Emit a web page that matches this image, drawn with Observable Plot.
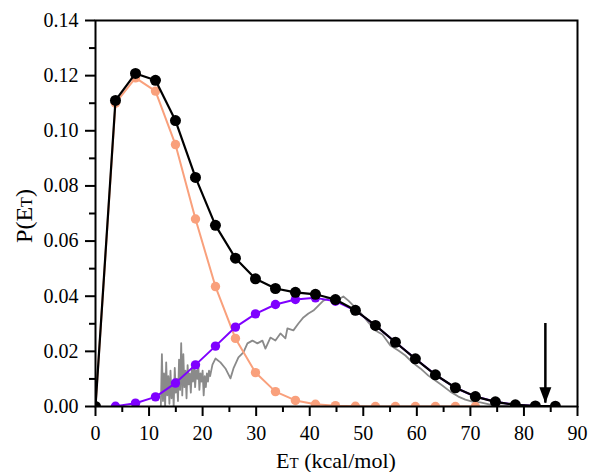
<!DOCTYPE html>
<html><head><meta charset="utf-8">
<script src="https://cdn.jsdelivr.net/npm/d3@7"></script>
<script src="https://cdn.jsdelivr.net/npm/@observablehq/plot@0.6"></script>
<style>
body{margin:0;background:#fff}
</style>
</head><body><div id="chart"></div>
<script>
// Energy grid (kcal/mol) of the computed points
const energy = [0,3.73,7.47,11.2,14.93,18.67,22.4,26.13,29.87,33.6,37.33,41.07,44.8,48.53,52.27,56,59.73,63.47,67.2,70.93,74.67,78.4,82.13,85.87];
// Total P(ET) (black)
const totalP = [0,0.111,0.1208,0.1183,0.1037,0.0831,0.0657,0.0538,0.0463,0.0428,0.0414,0.0407,0.0388,0.0349,0.0294,0.0233,0.0173,0.0115,0.0068,0.0036,0.0017,0.0006,0.0002,0.0001];
// Low-energy component (salmon), indices 0..19
const lowP = [0,0.110,0.1192,0.1144,0.095,0.068,0.0435,0.0247,0.0123,0.0054,0.0022,0.0008,0.0003,0.0001,0,0,0,0,0,0];
// High-energy component (purple), indices 1..23
const highP = [null,0.0001,0.0012,0.0035,0.0085,0.0151,0.0219,0.0288,0.0336,0.037,0.0388,0.0394,0.0382,0.0348,0.0294,0.0233,0.0173,0.0115,0.0068,0.0036,0.0017,0.0006,0.0002,0.0001];
// Experimental distribution (gray)
const expE = [12.2,12.4,12.6,12.8,13.0,13.2,13.4,13.6,13.8,14.0,14.2,14.4,14.6,14.8,15.0,15.2,15.4,15.6,15.8,16.0,16.2,16.4,16.6,16.8,17.0,17.2,17.4,17.6,17.8,18.0,18.2,18.4,18.6,18.8,19.0,19.2,19.4,19.6,19.8,20.0,20.2,20.4,20.6,20.8,21.0,21.2,21.4,
  21.84,22.4,23.33,24.26,25.2,25.76,26.69,27.62,28.37,29.3,30.23,31.17,31.73,32.66,33.59,34.53,35.46,35.83,36.95,37.89,38.82,39.76,40.69,41.62,42.55,43.86,45.35,46.28,47.22,48.15,49.46,50.95,52.26,53.57,55.06,56.55,57.86,59.16,60.66,62.15,63.46,64.76,66.25,67.75,69.06,70.36,71.85,73.72,75.59,77.45];
const expP = [0,0.019,0.002,0.012,0,0.016,0.004,0.011,0.001,0.013,0.003,0.009,0,0.014,0.005,0.010,0.002,0.017,0.006,0.023,0.004,0.019,0.007,0.013,0.003,0.015,0.008,0.012,0.005,0.014,0.009,0.016,0.007,0.013,0.010,0.015,0.006,0.012,0.009,0.013,0.004,0.011,0.007,0.012,0.009,0.013,0.011,
  0.0152,0.0174,0.016,0.0138,0.0102,0.0138,0.0178,0.0196,0.0229,0.0239,0.0229,0.0239,0.021,0.025,0.0239,0.0265,0.0247,0.0283,0.0276,0.0301,0.0323,0.0337,0.0348,0.0366,0.0384,0.0395,0.0388,0.0399,0.0384,0.0366,0.0341,0.0305,0.0276,0.0261,0.0221,0.0203,0.0185,0.016,0.0138,0.0112,0.0094,0.0076,0.0054,0.0036,0.0025,0.0018,0.0015,0.0007,0.0004,0.0001];
// Arrow (available-energy marker)
const arrowE = 84.0, arrowFrom = 0.0301, arrowTo = 0.0012;
// Ticks
const xTicks = [0,10,20,30,40,50,60,70,80,90];
const xMinor = [5,15,25,35,45,55,65,75,85];
const yTicks = [0,0.02,0.04,0.06,0.08,0.10,0.12,0.14];
const yMinor = [0.01,0.03,0.05,0.07,0.09,0.11,0.13];

const totalData = energy.map((e,i)=>({e, p: totalP[i]}));
const lowData = lowP.map((p,i)=>({e: energy[i], p}));
const highData = highP.map((p,i)=>({e: energy[i], p})).filter(d=>d.p!=null);
const expData = expE.map((e,i)=>({e, p: expP[i]}));

const arrowHead = {draw(ctx){ ctx.moveTo(-6,-16); ctx.lineTo(6,-16); ctx.lineTo(0,0); ctx.closePath(); }};

const colSalmon = "#f9a07c", colPurple = "#7f00ff", colGray = "#8a8a8a";
const serif = "Liberation Serif";

const svg = Plot.plot({
  width: 589, height: 472,
  marginLeft: 95, marginRight: 12, marginTop: 20, marginBottom: 66,
  style: {fontSize: "20px", color: "#000", background: "#fff"},
  x: {domain: [0, 90]},
  y: {domain: [0, 0.14]},
  marks: [
    Plot.line(expData, {x: "e", y: "p", stroke: colGray, strokeWidth: 1.8, clip: true}),
    Plot.line(lowData, {x: "e", y: "p", stroke: colSalmon, strokeWidth: 2, clip: true}),
    Plot.dot(lowData, {x: "e", y: "p", fill: colSalmon, r: 4.7, clip: true}),
    Plot.line(highData, {x: "e", y: "p", stroke: colPurple, strokeWidth: 2, clip: true}),
    Plot.dot(highData, {x: "e", y: "p", fill: colPurple, r: 4.7, clip: true}),
    Plot.line(totalData, {x: "e", y: "p", stroke: "#000", strokeWidth: 2.2, clip: true}),
    Plot.dot(totalData, {x: "e", y: "p", fill: "#000", r: 5.5, clip: true}),
    Plot.ruleX([{e: arrowE, p1: arrowFrom, p2: arrowTo}], {x: "e", y1: "p1", y2: "p2", stroke: "#000", strokeWidth: 2.5}),
    Plot.dot([{e: arrowE, p: arrowTo}], {x: "e", y: "p", symbol: arrowHead, fill: "#000", stroke: "none"}),
    Plot.frame({stroke: "#000", strokeWidth: 2}),
    Plot.axisX({ticks: xTicks, tickSize: 10, tickPadding: 9, strokeWidth: 2, label: null, tickFormat: d3.format("d"), fontSize: 20}),
    Plot.axisX({ticks: xMinor, tickSize: 6, strokeWidth: 2, text: null, label: null}),
    Plot.axisY({ticks: yTicks, tickSize: 10, tickPadding: 7, strokeWidth: 2, label: null, tickFormat: d3.format(".2f"), fontSize: 20}),
    Plot.axisY({ticks: yMinor, tickSize: 6, strokeWidth: 2, text: null, label: null})
  ]
});

const s = d3.select(svg);
const xt = s.append("text").attr("x", 336).attr("y", 468).attr("text-anchor", "middle")
  .attr("font-size", 22).attr("fill", "#000");
xt.append("tspan").text("E");
xt.append("tspan").attr("font-size", 15).text("T");
xt.append("tspan").text(" (kcal/mol)");

const yt = s.append("text").attr("transform", "translate(32,216) rotate(-90)").attr("text-anchor", "middle")
  .attr("font-size", 24).attr("fill", "#000");
yt.append("tspan").text("P(E");
yt.append("tspan").attr("font-size", 16).text("T");
yt.append("tspan").text(")");

// serif font everywhere
svg.setAttribute("font-family", serif);
svg.style.fontFamily = serif;
svg.querySelectorAll("g, text, tspan").forEach(el => {
  if (el.hasAttribute("font-family") || el.tagName !== "g") el.setAttribute("font-family", serif);
  el.style.setProperty("font-family", serif, "important");
});

document.getElementById("chart").appendChild(svg);
</script>
</body></html>
